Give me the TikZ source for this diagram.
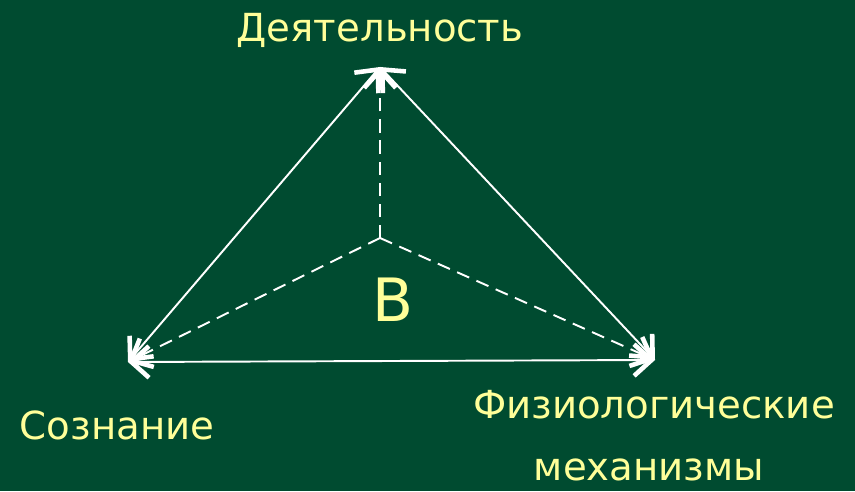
\documentclass[tikz,border=0pt]{standalone}
\usepackage{fontspec}
\setmainfont{DejaVu Sans}
\usepackage{xcolor}
\usetikzlibrary{arrows.meta,positioning}
\definecolor{board}{HTML}{004B30}
\definecolor{chalk}{HTML}{FFFF99}
\tikzset{
    label/.style={text=chalk, font=\fontsize{22}{25}\selectfont, inner sep=0pt},
    edge/.style={draw=white, line width=1.1pt,
    {Straight Barb[length=10pt, width=18pt, line width=2.6pt]}-{Straight Barb[length=10pt, width=18pt, line width=2.6pt]}},
    spoke/.style={draw=white, line width=1.1pt, dash pattern=on 7.5pt off 4.5pt,
    -{Straight Barb[length=10pt, width=18pt, line width=2.6pt]}},
}

\begin{document}
\begin{tikzpicture}
            \fill[board] (0,0) rectangle (17.1,9.82);
            \useasboundingbox (0,0) rectangle (17.1,9.82);
            % --- corners ---
            \coordinate (top) at (7.6,8.48);
            \coordinate (left) at (2.56,2.58);
            \coordinate (right) at (13.1,2.62);
            \coordinate (mid) at (7.6,5.06);
            % --- sides ---
            \draw[edge] (left) -- (top);
            \draw[edge] (top) -- (right);
            \draw[edge] (left) -- (right);
            % --- spokes from the centre ---
            \draw[spoke] (mid) -- (top);
            \draw[spoke] (mid) -- (left);
            \draw[spoke] (mid) -- (right);
            % --- labels ---
            \node[label] (act) at (7.6,9.22) {Деятельность};
            \node[label] (mind) at (2.34,1.32) {Сознание};
            \node[label] (phys1) at (13.08,1.72) {Физиологические};
            \node[label] (phys2) at (12.98,0.42) {механизмы};
            \node[label, font=\fontsize{34}{37}\selectfont] (b) at (7.86,3.82) {В};
        \end{tikzpicture}
\end{document}
